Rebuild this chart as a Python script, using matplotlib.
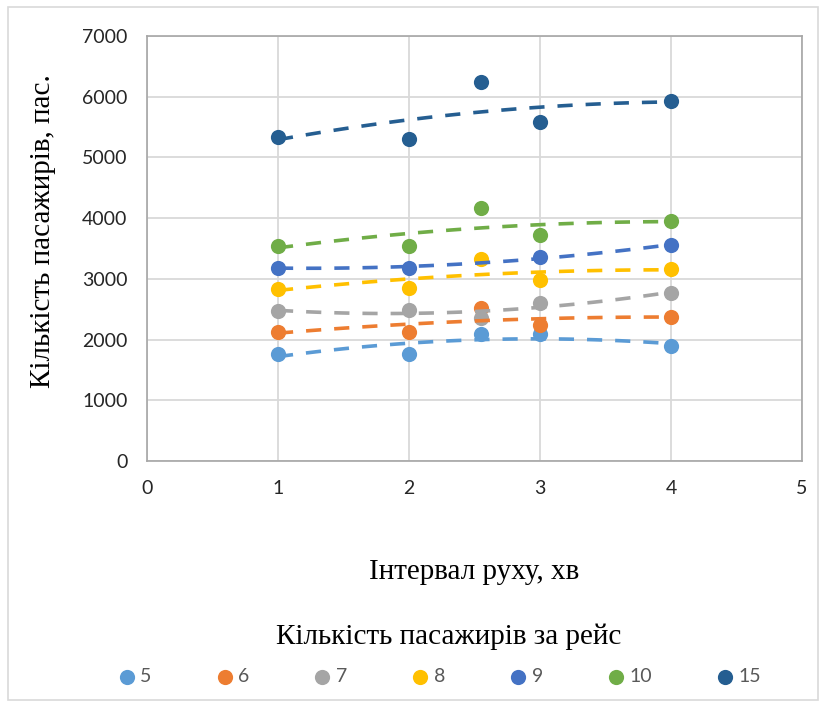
import numpy as np
import matplotlib
matplotlib.use("Agg")
import matplotlib.pyplot as plt
from matplotlib.patches import Rectangle

# interval between trips, min
x_main = [1, 2, 2.55, 3, 4]
x_nine = [1, 2, 3, 4]

series_names = ['5', '6', '7', '8', '9', '10', '15']
pax_5 = [1768, 1763, 2090, 2087, 1894]
pax_6 = [2125, 2130, 2515, 2238, 2377]
pax_7 = [2476, 2487, 2350, 2608, 2773]
pax_8 = [2833, 2844, 3327, 2978, 3157]
pax_9 = [3184, 3184, 3355, 3558]
pax_10 = [3541, 3547, 4173, 3718, 3953]
pax_15 = [5342, 5309, 6243, 5584, 5925]

colors = ['#5B9BD5', '#ED7D31', '#A5A5A5', '#FFC000', '#4472C4', '#70AD47', '#255E91']

xs = [x_main, x_main, x_main, x_main, x_nine, x_main, x_main]
ys = [pax_5, pax_6, pax_7, pax_8, pax_9, pax_10, pax_15]

serif = 'Liberation Serif'
sans = 'Lato'

fig = plt.figure(figsize=(8.24, 7.04), dpi=100)
ax = fig.add_axes([147/824, 1-461/704, 655/824, 425/704])

handles = []
for name, xv, yv, c in zip(series_names, xs, ys, colors):
    h = ax.scatter(xv, yv, s=120, color=c, zorder=3, linewidths=0, label=name)
    handles.append(h)
    # quadratic trend line over the measured range
    coef = np.polyfit(xv, yv, 2)
    xt = np.linspace(min(xv), max(xv), 100)
    ax.plot(xt, np.polyval(coef, xt), color=c, lw=2.6, dashes=(4.2, 3.6),
            zorder=4)

ax.set_xlim(0, 5)
ax.set_ylim(0, 7000)
ax.set_xticks(range(0, 6))
ax.set_yticks(range(0, 7001, 1000))
ax.grid(True, color='#d9d9d9', lw=1.3, zorder=0)
ax.set_axisbelow(True)
for sp in ax.spines.values():
    sp.set_color('#a6a6a6')
    sp.set_linewidth(1.2)
ax.tick_params(length=0, labelsize=14, colors='#262626', pad=14)
for lab in ax.get_xticklabels() + ax.get_yticklabels():
    lab.set_family(sans)

ax.set_xlabel('Інтервал руху, хв', family=serif, fontsize=21, va='center')
ax.xaxis.set_label_coords(0.5, -0.262)
ax.set_ylabel('Кількість пасажирів, пас.', family=serif, fontsize=21,
              va='center')
ax.yaxis.set_label_coords(-0.159, 0.54)

fig.text(449/824, 1-637/704, 'Кількість пасажирів за рейс', family=serif,
         fontsize=21, ha='center', va='center')
leg = fig.legend(handles=handles, loc='center', ncol=7, frameon=False,
                 bbox_to_anchor=(440/824, 1-677/704), handlelength=0.8,
                 handletextpad=0.3, columnspacing=3.35,
                 prop={'family': sans, 'size': 14},
                 scatterpoints=1, markerscale=1.0)
for t in leg.get_texts():
    t.set_color('#595959')

# outer chart border
fig.patches.append(Rectangle((8/824, 4/704), 810/824, 693/704,
                             transform=fig.transFigure, fill=False,
                             edgecolor='#d9d9d9', lw=1.2))

fig.savefig('out.png', dpi=100)
